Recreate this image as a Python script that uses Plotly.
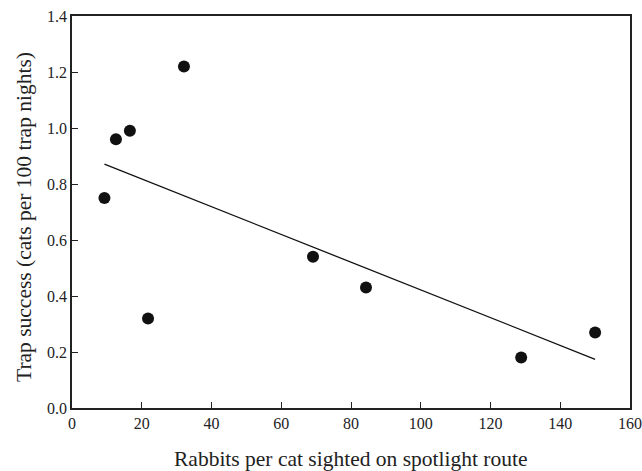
import plotly.graph_objects as go

rabbits_per_cat = [9.3, 12.6, 16.6, 21.8, 32.1, 69.1, 84.3, 128.8, 150.0]
trap_success = [0.75, 0.96, 0.99, 0.32, 1.22, 0.54, 0.43, 0.18, 0.27]
fit_x = [9.3, 150.0]
fit_y = [0.871, 0.174]

x_ticks = [0, 20, 40, 60, 80, 100, 120, 140, 160]
y_ticks = [0.0, 0.2, 0.4, 0.6, 0.8, 1.0, 1.2, 1.4]

fig = go.Figure()
fig.add_trace(go.Scatter(x=fit_x, y=fit_y, mode="lines",
                         line=dict(color="#111111", width=1.3), showlegend=False))
fig.add_trace(go.Scatter(x=rabbits_per_cat, y=trap_success, mode="markers",
                         marker=dict(color="#111111", size=12), showlegend=False))

font = "Liberation Serif, Times New Roman, serif"
W, H = 642, 471
L, R, T, B = 72, 12, 16, 63
pw, ph = W - L - R, H - T - B
fig.update_layout(
    width=W, height=H,
    margin=dict(l=L, r=R, t=T, b=B, autoexpand=False),
    paper_bgcolor="white", plot_bgcolor="white",
    font=dict(family=font, color="#222222", size=16),
)
fig.update_xaxes(range=[0, 160], tickvals=x_ticks, ticktext=[str(v) for v in x_ticks],
                 ticks="inside", ticklen=6, tickcolor="#222222", tickwidth=1,
                 showline=True, linecolor="#222222", linewidth=1.5, mirror=True,
                 showgrid=False, zeroline=False, automargin=False)
fig.update_yaxes(range=[0, 1.4], tickvals=y_ticks, ticktext=[f"{v:.1f}" for v in y_ticks],
                 ticks="inside", ticklen=6, tickcolor="#222222", tickwidth=1,
                 showline=True, linecolor="#222222", linewidth=1.5, mirror=True,
                 showgrid=False, zeroline=False, automargin=False)
fig.add_annotation(text="Rabbits per cat sighted on spotlight route",
                   xref="paper", yref="paper", x=(351 - L) / pw, y=(H - B - 459) / ph,
                   xanchor="center", yanchor="middle", showarrow=False,
                   font=dict(size=21.5, family=font, color="#222222"))
fig.add_annotation(text="Trap success (cats per 100 trap nights)",
                   xref="paper", yref="paper", x=(24 - L) / pw, y=(H - B - 217) / ph,
                   xanchor="center", yanchor="middle", textangle=-90, showarrow=False,
                   font=dict(size=21.5, family=font, color="#222222"))

fig.write_html("out.html",
               config={"displayModeBar": False},
               post_script="document.body.style.margin='0';document.body.style.overflow='hidden';")
